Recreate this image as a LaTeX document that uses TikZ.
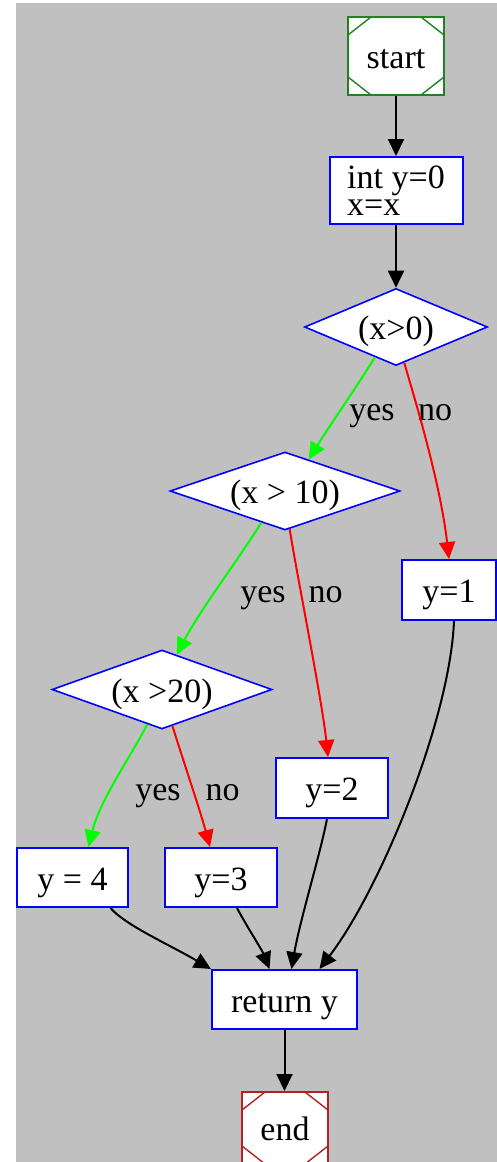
\documentclass[tikz,border=0pt]{standalone}
\usepackage{fontspec}
\setmainfont{Liberation Serif}
\usetikzlibrary{shapes.geometric,arrows.meta}
\definecolor{bggray}{HTML}{C0C0C0}
\definecolor{startgreen}{RGB}{34,130,34}
\definecolor{endred}{RGB}{178,34,34}
\begin{document}
\begin{tikzpicture}[x=1pt,y=-1pt,
  every node/.style={font=\fontsize{34}{40}\selectfont},
  pbox/.style={draw=blue, fill=white, line width=2pt, inner sep=0pt, text height=25pt, text depth=0pt},
  msq/.style={draw=#1, fill=white, line width=2pt, inner sep=0pt, text height=25pt, text depth=0pt,
    path picture={\draw[#1, line width=1.4pt]
      ([yshift=-18pt]path picture bounding box.north west) -- ([xshift=23pt]path picture bounding box.north west)
      ([yshift=-18pt]path picture bounding box.north east) -- ([xshift=-23pt]path picture bounding box.north east)
      ([yshift=18pt]path picture bounding box.south west) -- ([xshift=23pt]path picture bounding box.south west)
      ([yshift=18pt]path picture bounding box.south east) -- ([xshift=-23pt]path picture bounding box.south east);}},
  decis/.style={diamond, draw=blue, fill=white, line width=1.6pt, inner sep=0pt, text height=25pt, text depth=0pt},
  lbl/.style={anchor=base, inner sep=0pt},
  conn/.style={line width=2pt, -{Triangle[length=17pt,width=16pt]}},
]
\useasboundingbox (0,0) rectangle (497,1162);
\fill[white] (0,0) rectangle (497,1162);
\fill[bggray] (16,3) rectangle (497,1162);

\node[msq=startgreen, minimum width=96pt, minimum height=78pt] (s) at (396,56) {start};
\node[draw=blue, fill=white, line width=2pt, inner sep=0pt, minimum width=133pt, minimum height=67pt,
  align=left, font=\fontsize{34}{27}\selectfont] (i) at (396,190.5) {int y=0\\x=x};
\node[decis, minimum width=183pt, minimum height=77pt, aspect=2.38] (d1) at (396,327) {(x>0)};
\node[decis, minimum width=230pt, minimum height=78pt, aspect=2.95] (d2) at (285,491) {(x > 10)};
\node[decis, minimum width=220pt, minimum height=79pt, aspect=2.78] (d3) at (162,689.5) {(x >20)};
\node[pbox, minimum width=94pt, minimum height=60pt] (y1) at (449,590) {y=1};
\node[pbox, minimum width=112pt, minimum height=60pt] (y2) at (332,788) {y=2};
\node[pbox, minimum width=111pt, minimum height=59pt] (y4) at (72.5,877.5) {y = 4};
\node[pbox, minimum width=112pt, minimum height=59pt] (y3) at (221,877.5) {y=3};
\node[pbox, minimum width=145pt, minimum height=59pt] (r) at (284.5,999.5) {return y};
\node[msq=endred, minimum width=86pt, minimum height=72pt] (e) at (285,1128) {end};

\node[lbl] (l1y) at (372,420) {yes};
\node[lbl] (l1n) at (435,420) {no};
\node[lbl] (l2y) at (263,602) {yes};
\node[lbl] (l2n) at (325.5,602) {no};
\node[lbl] (l3y) at (158,800) {yes};
\node[lbl] (l3n) at (222.5,800) {no};

\draw[conn] (s.south) -- (s.south |- i.north);
\draw[conn] (i.south) -- (i.south |- d1.north);
\draw[conn, green] (d1.235) .. controls (360,382) and (328,428) .. (d2.53);
\draw[conn, red] (d1.283) .. controls (412,390) and (440,480) .. (y1.north);
\draw[conn, green] (d2.233) .. controls (245,550) and (200,610) .. (d3.67);
\draw[conn, red] (d2.277) .. controls (296,570) and (322,700) .. ([xshift=-4pt]y2.north);
\draw[conn, green] (d3.247) .. controls (130,758) and (100,800) .. ([xshift=16pt]y4.north);
\draw[conn, red] (d3.286) .. controls (182,757) and (200,810) .. ([xshift=-11pt]y3.north);
\draw[conn] ([xshift=38pt]y4.south) .. controls (125,925) and (170,945) .. (r.north west);
\draw[conn] ([xshift=16pt]y3.south) .. controls (246,925) and (262,950) .. ([xshift=-15pt]r.north);
\draw[conn] ([xshift=-5pt]y2.south) .. controls (320,855) and (300,920) .. ([xshift=7pt]r.north);
\draw[conn] ([xshift=5pt]y1.south) .. controls (450,720) and (380,890) .. ([xshift=35pt]r.north);
\draw[conn] (r.south) -- (r.south |- e.north);
\end{tikzpicture}
\end{document}
